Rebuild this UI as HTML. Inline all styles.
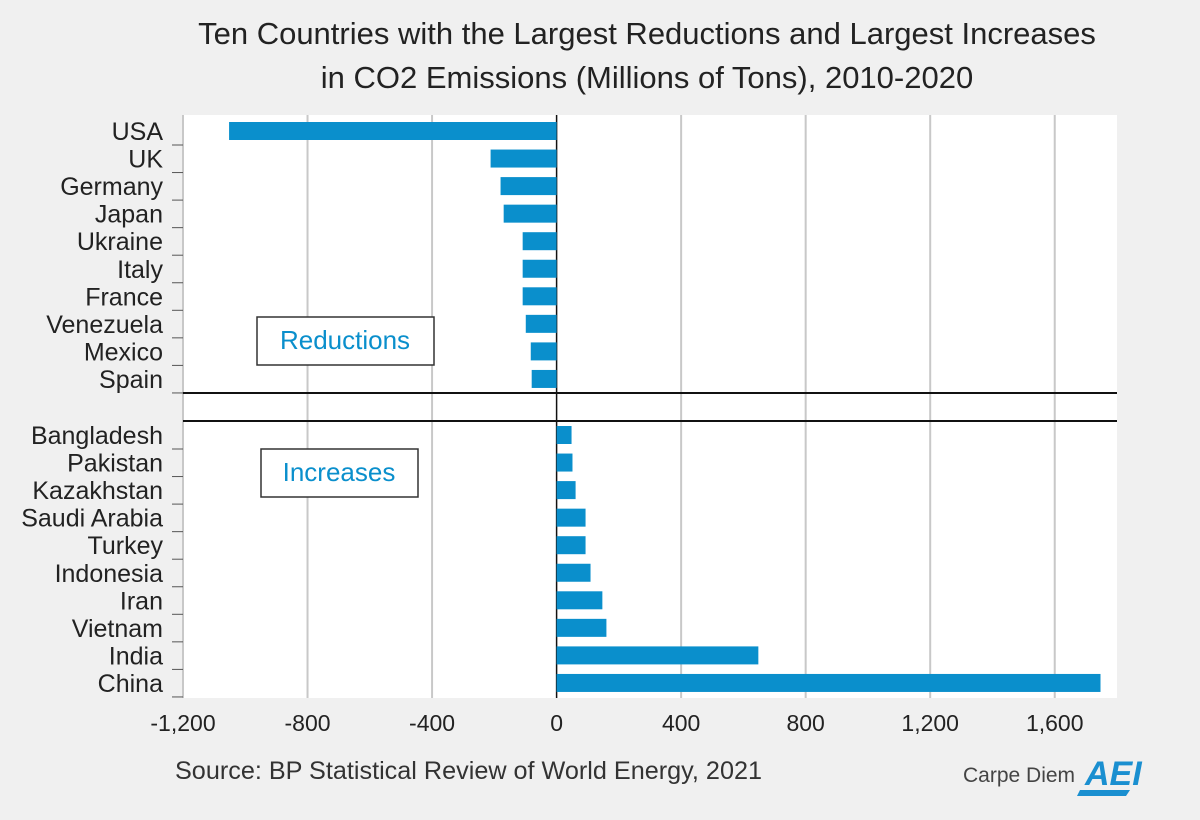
<!DOCTYPE html>
<html><head><meta charset="utf-8"><style>
html,body{margin:0;padding:0;background:#f0f0f0;}
svg{display:block;font-family:"Liberation Sans",sans-serif;}
</style></head><body>
<svg id="chart" width="1200" height="820" viewBox="0 0 1200 820">
<rect x="0" y="0" width="1200" height="820" fill="#f0f0f0"/>
<text x="647" y="44" text-anchor="middle" font-size="31" fill="#222">Ten Countries with the Largest Reductions and Largest Increases</text>
<text x="647" y="88" text-anchor="middle" font-size="31" fill="#222">in CO2 Emissions (Millions of Tons), 2010-2020</text>
<rect x="183" y="115" width="934" height="583" fill="#fff"/>
<g id="grid"></g>
<g id="bars"></g>
<g id="labels"></g>
<line x1="183" y1="393" x2="1117" y2="393" stroke="#111" stroke-width="2"/>
<line x1="183" y1="421" x2="1117" y2="421" stroke="#111" stroke-width="2"/>
<g>
<rect x="257" y="317" width="177" height="48" fill="#fff" stroke="#333" stroke-width="1.5"/>
<text x="345" y="349" text-anchor="middle" font-size="26" fill="#0a8fcc">Reductions</text>
</g>
<g>
<rect x="261" y="449" width="157" height="48" fill="#fff" stroke="#333" stroke-width="1.5"/>
<text x="339" y="481" text-anchor="middle" font-size="26" fill="#0a8fcc">Increases</text>
</g>
<text x="175" y="779" font-size="25" fill="#333" textLength="587" lengthAdjust="spacingAndGlyphs">Source: BP Statistical Review of World Energy, 2021</text>
<text x="963" y="782" font-size="21" fill="#444">Carpe Diem</text>
<g>
<text x="1085" y="785" font-size="34" font-weight="bold" font-style="italic" fill="#1a8fd0">AEI</text>
<polygon points="1080,790 1130,790 1126,796 1077,796" fill="#1a8fd0"/>
</g>
</svg>
<script>
const categories=["USA","UK","Germany","Japan","Ukraine","Italy","France","Venezuela","Mexico","Spain","Bangladesh","Pakistan","Kazakhstan","Saudi Arabia","Turkey","Indonesia","Iran","Vietnam","India","China"];
const values=[-1052,-212,-180,-170,-109,-109,-109,-99,-83,-80,48,51,61,93,93,109,147,160,648,1747];
const tickValues=[-1200,-800,-400,0,400,800,1200,1600];
const tickLabels=["-1,200","-800","-400","0","400","800","1,200","1,600"];
const NS="http://www.w3.org/2000/svg";
const x0=183,x1=1117,vmin=-1200,vmax=1800;
function xs(v){return x0+(v-vmin)/(vmax-vmin)*(x1-x0);}
function ys(i){return i<10?131+i*27.55:435+(i-10)*27.55;}
function mk(t,a,p){const e=document.createElementNS(NS,t);for(const k in a)e.setAttribute(k,a[k]);p.appendChild(e);return e;}
const grid=document.getElementById('grid'),bars=document.getElementById('bars'),labels=document.getElementById('labels');
tickValues.forEach((v,i)=>{
  if(v!==0){const g=mk('line',{x1:xs(v),x2:xs(v),y1:115,y2:698,stroke:'#c8c8c8','stroke-width':2},grid);
  
  }
  const t=mk('text',{x:xs(v),y:731,'text-anchor':'middle','font-size':23,fill:'#222'},labels);
  t.textContent=tickLabels[i];
  
  
});
const z=mk('line',{x1:xs(0),x2:xs(0),y1:115,y2:698,stroke:'#111','stroke-width':1.5},grid);


categories.forEach((c,i)=>{
  const y=ys(i),v=values[i];
  const r=mk('rect',{x:Math.min(xs(0),xs(v)),y:y-9,width:Math.abs(xs(v)-xs(0)),height:18,fill:'#0a8fcc'},bars);
  
  
  const t=mk('text',{x:163,y:y+9,'text-anchor':'end','font-size':25,fill:'#222'},labels);
  t.textContent=c;
  
  
  const tk=mk('line',{x1:172,x2:183,y1:y+14,y2:y+14,stroke:'#555','stroke-width':1},labels);
  
  
});
</script>
</body></html>
